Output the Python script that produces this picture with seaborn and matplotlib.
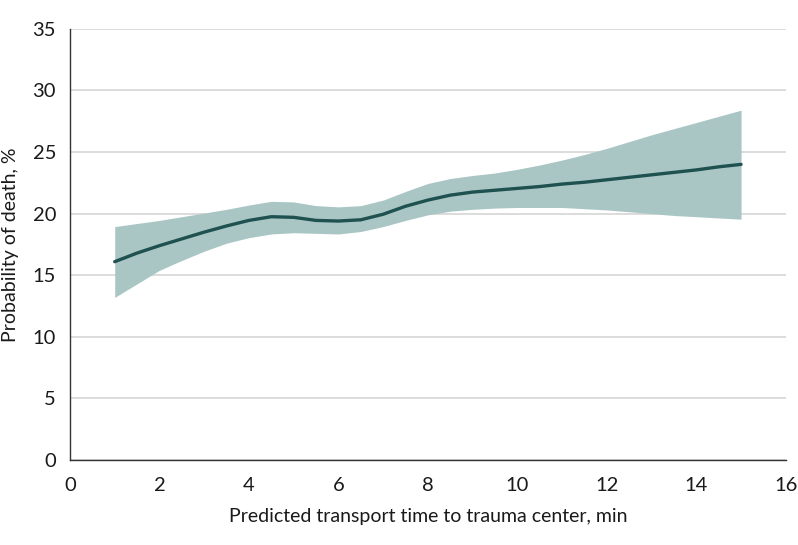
import matplotlib
matplotlib.use("Agg")
import matplotlib.pyplot as plt
import seaborn as sns
import pandas as pd

# predicted transport time (min) and probability of death (%) with 95% CI
transport_time = [1.0, 1.5, 2.0, 2.5, 3.0, 3.5, 4.0, 4.5, 5.0, 5.5, 6.0, 6.5, 7.0, 7.5,
                  8.0, 8.5, 9.0, 9.5, 10.0, 10.5, 11.0, 11.5, 12.0, 12.5, 13.0, 13.5,
                  14.0, 14.5, 15.0]
prob_death = [16.1, 16.8, 17.4, 17.95, 18.5, 19.0, 19.45, 19.75, 19.7, 19.45, 19.4, 19.5,
              19.95, 20.6, 21.1, 21.5, 21.75, 21.9, 22.05, 22.2, 22.4, 22.55, 22.75,
              22.95, 23.15, 23.35, 23.55, 23.8, 24.0]
ci_upper = [18.95, 19.2, 19.45, 19.75, 20.05, 20.35, 20.7, 21.0, 20.95, 20.65, 20.55,
            20.65, 21.1, 21.8, 22.45, 22.85, 23.1, 23.3, 23.6, 23.95, 24.35, 24.8, 25.3,
            25.85, 26.4, 26.9, 27.4, 27.9, 28.4]
ci_lower = [13.2, 14.3, 15.4, 16.2, 16.95, 17.6, 18.05, 18.35, 18.45, 18.4, 18.35, 18.55,
            18.95, 19.45, 19.9, 20.2, 20.35, 20.45, 20.5, 20.5, 20.5, 20.4, 20.3, 20.15,
            20.0, 19.85, 19.75, 19.65, 19.55]

x_ticks = [0, 2, 4, 6, 8, 10, 12, 14, 16]
y_ticks = [0, 5, 10, 15, 20, 25, 30, 35]

df = pd.DataFrame({"time": transport_time, "prob": prob_death,
                   "lo": ci_lower, "hi": ci_upper})

sns.set_theme(style="white")
plt.rcParams["font.family"] = ["Lato", "DejaVu Sans"]

fig = plt.figure(figsize=(7.98, 5.45), dpi=100)
ax = fig.add_axes([0.0877, 0.156, 0.897, 0.791])

ax.fill_between(df["time"], df["lo"], df["hi"], color="#a9c6c5", linewidth=0, zorder=2)
sns.lineplot(data=df, x="time", y="prob", ax=ax, color="#1e514f", linewidth=2.4, zorder=3)

ax.set_xlim(0, 16)
ax.set_ylim(0, 35)
ax.set_xticks(x_ticks)
ax.set_yticks(y_ticks)
ax.yaxis.grid(True, color="#d9d9d9", linewidth=1.3, zorder=0)
ax.set_axisbelow(True)

for side in ["top", "right"]:
    ax.spines[side].set_visible(False)
for side in ["left", "bottom"]:
    ax.spines[side].set_color("#333333")
    ax.spines[side].set_linewidth(1.0)

ax.tick_params(axis="both", direction="out", length=6, width=1.0, color="#333333",
               labelsize=14.5, labelcolor="#1a1a1a", pad=4)
ax.tick_params(axis="x", pad=6)
ax.set_xlabel("Predicted transport time to trauma center, min", fontsize=14,
              color="#1a1a1a", labelpad=10)
ax.set_ylabel("Probability of death, %", fontsize=14, color="#1a1a1a", labelpad=10)

fig.savefig("out.png", dpi=100)
